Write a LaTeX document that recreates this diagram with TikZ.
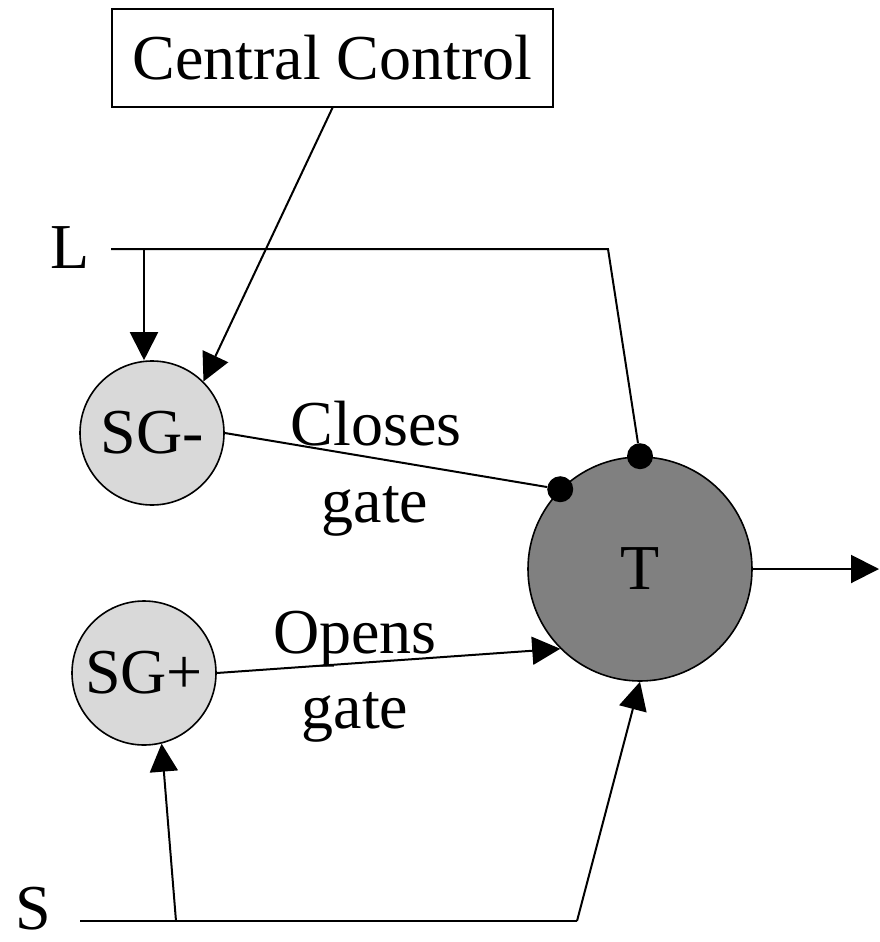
\documentclass[tikz,border=0pt]{standalone}
\usepackage{fontspec}
\setmainfont{Liberation Serif}
\usetikzlibrary{positioning, arrows.meta}

\begin{document}
\begin{tikzpicture}[
        x=1pt, y=-1pt,
        big/.style={font=\fontsize{64}{70}\selectfont},
        ctrlbox/.style={rectangle, draw, line width=1.6pt, minimum width=441pt, minimum height=98pt, inner sep=0pt, big},
        gatecirc/.style={circle, draw, line width=1.6pt, fill=gray!30, minimum size=144pt, inner sep=0pt, big},
        tcirc/.style={circle, draw, line width=1.6pt, fill=gray, minimum size=224pt, inner sep=0pt, big},
        lbl/.style={inner sep=0pt, anchor=base, big},
        dot/.style={circle, fill=black, minimum size=26pt, inner sep=0pt},
        wire/.style={line width=2pt},
        arrow/.style={wire, -{Triangle[length=28pt, width=28pt]}}
    ]
        \useasboundingbox (0,0) rectangle (880,942);

        % Control and inputs
        \node[ctrlbox] (control) at (332.5,58) {Central Control};
        \node[lbl] (L) at (70,268) {L};
        \node[lbl] (S) at (33,929) {S};

        % Gates and target
        \node[gatecirc] (sgminus) at (152,433) {SG-};
        \node[gatecirc] (sgplus) at (144,673) {SG+};
        \node[tcirc] (T) at (640,569) {T};

        % Gate labels
        \node[lbl] (closes) at (376,445) {Closes};
        \node[lbl] (closesgate) at (375,522) {gate};
        \node[lbl] (opens) at (355,653) {Opens};
        \node[lbl] (opensgate) at (355,728) {gate};

        % Inhibitory contacts
        \node[dot] (dotL) at (T.north) {};
        \node[dot] (dotSG) at (T.135) {};

        % Line corners
        \coordinate (Lstart) at (111,249);
        \coordinate (Lbranch) at (144,249);
        \coordinate (Lcorner) at (608,249);
        \coordinate (Sstart) at (80,921);
        \coordinate (Sbranch) at (176,921);
        \coordinate (Scorner) at (577,921);
        \coordinate (out) at (879,569);

        % Arrows
        \draw[wire] (Lstart) -- (Lcorner) -- (dotL);
        \draw[arrow] (Lbranch) -- (Lbranch |- sgminus.north);
        \draw[arrow] (control.south) -- (sgminus.45);
        \draw[wire] (sgminus.east) -- (dotSG);
        \draw[arrow] (sgplus.east) -- (T.225);
        \draw[wire] (Sstart) -- (Scorner);
        \draw[arrow] (Scorner) -- (T.south);
        \draw[arrow] (Sbranch) -- (sgplus.-76);
        \draw[arrow] (T.east) -- (out);
    \end{tikzpicture}
\end{document}
